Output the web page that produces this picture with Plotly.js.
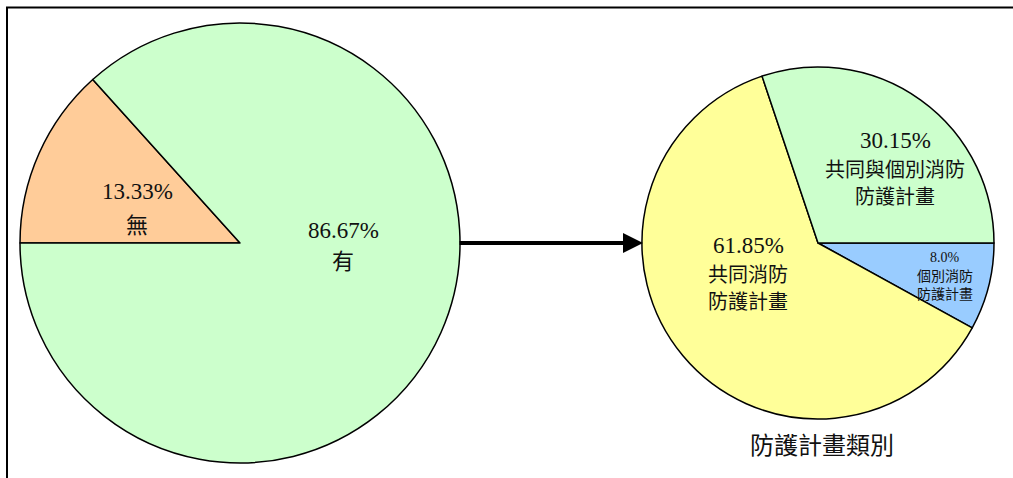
<!DOCTYPE html>
<html>
<head>
<meta charset="utf-8">
<script src="https://cdn.plot.ly/plotly-3.0.1.min.js"></script>
<style>
  html, body { margin: 0; padding: 0; background: #fff; }
  #chart { width: 1013px; height: 478px; }
</style>
</head>
<body>
<div id="chart"></div>
<script>
// 是否訂有防護計畫
const planLabels = ['無', '有'];
const planValues = [13.33, 86.67];
const planColors = ['#FFCC99', '#CCFFCC'];

// 防護計畫類別（順時針，自三點鐘方向起）
const typeLabels = ['個別消防<br>防護計畫', '共同消防<br>防護計畫', '共同與個別消防<br>防護計畫'];
const typeValues = [8.0, 61.85, 30.15];
const typeColors = ['#99CCFF', '#FFFF99', '#CCFFCC'];

const typeTitle = '防護計畫類別';

const W = 1013, H = 478;
const px = x => x / W;
const py = y => 1 - y / H;

const serif = 'Liberation Serif, Times New Roman, serif';
const cjk = 'Noto Sans CJK TC, Noto Sans CJK SC, sans-serif';
const fmt = v => v.toFixed(v % 1 === 0 ? 1 : 2) + '%';

const outline = { color: '#000', width: 1.5 };

const traces = [
  {
    type: 'pie', labels: planLabels, values: planValues,
    marker: { colors: planColors, line: outline },
    sort: false, direction: 'clockwise', rotation: -90,
    textinfo: 'none', hoverinfo: 'skip', showlegend: false,
    domain: { x: [px(20), px(460)], y: [py(464), py(22)] }
  },
  {
    type: 'pie', labels: typeLabels, values: typeValues,
    marker: { colors: typeColors, line: outline },
    sort: false, direction: 'clockwise', rotation: 90,
    textinfo: 'none', hoverinfo: 'skip', showlegend: false,
    domain: { x: [px(642), px(994)], y: [py(419), py(67)] }
  }
];

// label placement (px): x, value y, name line ys, value font, name font
const planPos = [
  { x: 137, vy: 192, ny: [223], vf: 23, nf: 22 },
  { x: 343, vy: 230, ny: [259], vf: 23, nf: 22 }
];
const typePos = [
  { x: 945, vy: 257, ny: [275, 293], vf: 14, nf: 14 },
  { x: 748, vy: 246, ny: [273, 300], vf: 23, nf: 20 },
  { x: 895, vy: 141, ny: [168, 195], vf: 23, nf: 20 }
];

const base = { xref: 'paper', yref: 'paper', showarrow: false, xanchor: 'center', yanchor: 'middle',
  borderpad: 0 };
const annotations = [];
function addLabel(value, name, p) {
  annotations.push({ ...base, x: px(p.x), y: py(p.vy), text: fmt(value),
    font: { family: serif, size: p.vf, color: '#111' } });
  name.split('<br>').forEach((line, k) => {
    annotations.push({ ...base, x: px(p.x), y: py(p.ny[k]), text: line,
      font: { family: cjk, size: p.nf, color: '#111' } });
  });
}
planValues.forEach((v, i) => addLabel(v, planLabels[i], planPos[i]));
typeValues.forEach((v, i) => addLabel(v, typeLabels[i], typePos[i]));

annotations.push({ ...base, x: px(822), y: py(443), text: typeTitle,
  font: { family: cjk, size: 24, color: '#111' } });
// connecting arrow between the two pies
annotations.push({ x: px(643), y: py(243), xref: 'paper', yref: 'paper',
  ax: -185, ay: 0, axref: 'pixel', ayref: 'pixel', text: '',
  showarrow: true, arrowhead: 2, arrowsize: 1, arrowwidth: 4, arrowcolor: '#000' });

const shapes = [
  { type: 'line', xref: 'paper', yref: 'paper', x0: px(6), x1: 1, y0: py(7.5), y1: py(7.5),
    line: { color: '#000', width: 2 } },
  { type: 'line', xref: 'paper', yref: 'paper', x0: px(7), x1: px(7), y0: py(7), y1: 0,
    line: { color: '#000', width: 2 } }
];

const layout = {
  width: W, height: H,
  margin: { l: 0, r: 0, t: 0, b: 0 },
  paper_bgcolor: '#fff', plot_bgcolor: '#fff',
  showlegend: false,
  annotations, shapes
};

Plotly.newPlot('chart', traces, layout, { displayModeBar: false, staticPlot: true });
</script>
</body>
</html>
